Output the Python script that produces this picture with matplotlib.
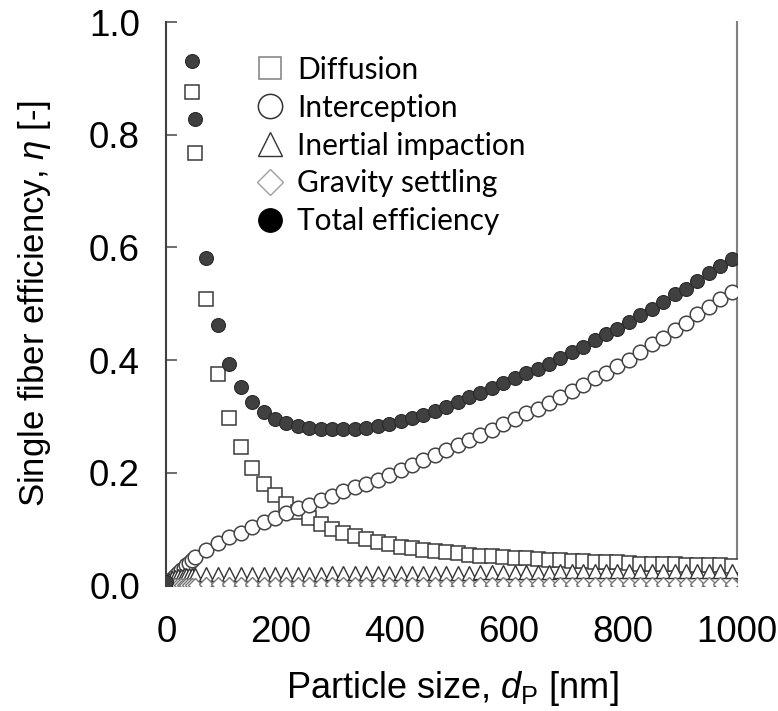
import numpy as np
import matplotlib as mpl
import matplotlib.pyplot as plt

mpl.rcParams['font.family'] = ['Liberation Sans', 'DejaVu Sans']
mpl.rcParams['mathtext.fontset'] = 'custom'
mpl.rcParams['mathtext.rm'] = 'Liberation Sans'
mpl.rcParams['mathtext.it'] = 'Liberation Sans:italic'

nan = np.nan

# particle size [nm]
dp = [0, 5, 10, 15, 20, 25, 30, 35, 40, 45, 50,
      70, 90, 110, 130, 150, 170, 190, 210, 230, 250,
      270, 290, 310, 330, 350, 370, 390, 410, 430, 450,
      470, 490, 510, 530, 550, 570, 590, 610, 630, 650,
      670, 690, 710, 730, 750, 770, 790, 810, 830, 850,
      870, 890, 910, 930, 950, 970, 990]

diffusion = [nan, nan, nan, nan, nan, nan, nan, nan, nan, 0.876, 0.768,
             0.508, 0.375, 0.297, 0.245, 0.208, 0.181, 0.161, 0.145, 0.131, 0.119,
             0.109, 0.101, 0.094, 0.087, 0.082, 0.077, 0.073, 0.069, 0.066, 0.063,
             0.061, 0.059, 0.057, 0.055, 0.053, 0.052, 0.050, 0.049, 0.048, 0.047,
             0.046, 0.045, 0.044, 0.043, 0.042, 0.041, 0.041, 0.040, 0.039, 0.039,
             0.038, 0.038, 0.037, 0.037, 0.036, 0.036, 0.035]

interception = [0.0, 0.007, 0.012, 0.017, 0.022, 0.027, 0.031, 0.036, 0.040, 0.046, 0.050,
                0.063, 0.075, 0.086, 0.094, 0.104, 0.112, 0.120, 0.128, 0.137, 0.143,
                0.152, 0.159, 0.168, 0.174, 0.181, 0.188, 0.197, 0.205, 0.214, 0.223,
                0.232, 0.240, 0.249, 0.259, 0.267, 0.276, 0.286, 0.295, 0.306, 0.313,
                0.324, 0.335, 0.346, 0.356, 0.368, 0.378, 0.390, 0.401, 0.415, 0.428,
                0.440, 0.453, 0.466, 0.481, 0.495, 0.508, 0.521]

inertial = [0.006, 0.010, 0.013, 0.015, 0.016, 0.017, 0.018, 0.018, 0.019, 0.019, 0.019,
            0.020, 0.020, 0.020, 0.020, 0.020, 0.021, 0.021, 0.021, 0.021, 0.021,
            0.021, 0.022, 0.022, 0.022, 0.022, 0.022, 0.022, 0.023, 0.023, 0.023,
            0.023, 0.023, 0.023, 0.023, 0.024, 0.024, 0.024, 0.024, 0.024, 0.024,
            0.024, 0.025, 0.025, 0.025, 0.025, 0.025, 0.025, 0.025, 0.025, 0.026,
            0.026, 0.026, 0.026, 0.026, 0.026, 0.026, 0.026]

gravity = [0.0, 0.001, 0.001, 0.001, 0.001, 0.001, 0.001, 0.001, 0.001, 0.001, 0.001,
           0.002, 0.002, 0.002, 0.002, 0.002, 0.002, 0.002, 0.002, 0.002, 0.002,
           0.002, 0.002, 0.002, 0.002, 0.002, 0.002, 0.002, 0.002, 0.002, 0.002,
           0.003, 0.003, 0.003, 0.003, 0.003, 0.003, 0.003, 0.003, 0.003, 0.003,
           0.003, 0.003, 0.003, 0.003, 0.003, 0.003, 0.003, 0.003, 0.003, 0.003,
           0.003, 0.003, 0.003, 0.003, 0.003, 0.003, 0.003]

total = [0.006, nan, nan, nan, nan, nan, nan, nan, nan, 0.931, 0.828,
         0.582, 0.462, 0.394, 0.353, 0.326, 0.308, 0.295, 0.288, 0.283, 0.279,
         0.277, 0.277, 0.277, 0.278, 0.280, 0.283, 0.287, 0.292, 0.297, 0.303,
         0.310, 0.317, 0.325, 0.335, 0.342, 0.351, 0.359, 0.368, 0.377, 0.385,
         0.394, 0.404, 0.414, 0.424, 0.436, 0.446, 0.456, 0.468, 0.480, 0.491,
         0.503, 0.517, 0.527, 0.540, 0.554, 0.567, 0.579]

labels = ['Diffusion', 'Interception', 'Inertial impaction', 'Gravity settling', 'Total efficiency']

fig = plt.figure(figsize=(7.78, 7.11), dpi=100)
ax = fig.add_axes([0.214, 0.1765, 0.7337, 0.7925])

ax.plot(dp, diffusion, ls='none', marker='s', ms=10, mfc='white', mec='#3a3a3a', mew=1.1,
        label=labels[0], zorder=3)
ax.plot(dp, interception, ls='none', marker='o', ms=10.5, mfc='white', mec='#444444', mew=1.1,
        label=labels[1], zorder=3)
ax.plot(dp, inertial, ls='none', marker='^', ms=9.5, mfc='white', mec='#333333', mew=1.0,
        label=labels[2], zorder=3)
ax.plot(dp, gravity, ls='none', marker='D', ms=7, mfc='white', mec='#777777', mew=1.0,
        label=labels[3], zorder=3)
ax.plot(dp, total, ls='none', marker='o', ms=10, mfc='#404040', mec='#2a2a2a', mew=0.8,
        label=labels[4], zorder=4)

ax.set_xlim(0, 1000)
ax.set_ylim(0, 1.0)
ax.set_xticks([0, 200, 400, 600, 800, 1000])
ax.set_yticks([0.0, 0.2, 0.4, 0.6, 0.8, 1.0])
ax.set_yticklabels(['0.0', '0.2', '0.4', '0.6', '0.8', '1.0'])
ax.tick_params(axis='y', direction='in', length=8, width=1.2, color='#555555',
               labelsize=26.5, pad=19)
ax.tick_params(axis='x', direction='in', length=0, labelsize=26.5, pad=21)

ax.spines['top'].set_visible(False)
ax.spines['left'].set_color('#404040')
ax.spines['left'].set_linewidth(1.5)
ax.spines['bottom'].set_color('#404040')
ax.spines['bottom'].set_linewidth(1.2)
ax.spines['right'].set_color('#808080')
ax.spines['right'].set_linewidth(1.5)

ax.set_xlabel('Particle size, $d_\\mathrm{P}$ [nm]', fontsize=26, labelpad=14)
ax.set_ylabel('Single fiber efficiency, $\\it{\\eta}$ [-]', fontsize=25, labelpad=26)

leg = ax.legend(loc='upper left', bbox_to_anchor=(0.155, 0.94), frameon=False,
                prop={'family': 'Lato', 'size': 21.5}, handlelength=1.0,
                handletextpad=0.42, labelspacing=0.33, borderpad=0, borderaxespad=0)
leg_sizes = [16, 17.5, 17, 13.5, 17]
leg_edges = ['#7f7f7f', '#333333', '#333333', '#a0a0a0', 'black']
leg_faces = ['white', 'white', 'white', 'white', 'black']
for h, s, ec, fc in zip(leg.legend_handles, leg_sizes, leg_edges, leg_faces):
    h.set_markersize(s)
    h.set_markeredgecolor(ec)
    h.set_markerfacecolor(fc)

fig.savefig('out.png', dpi=100)
